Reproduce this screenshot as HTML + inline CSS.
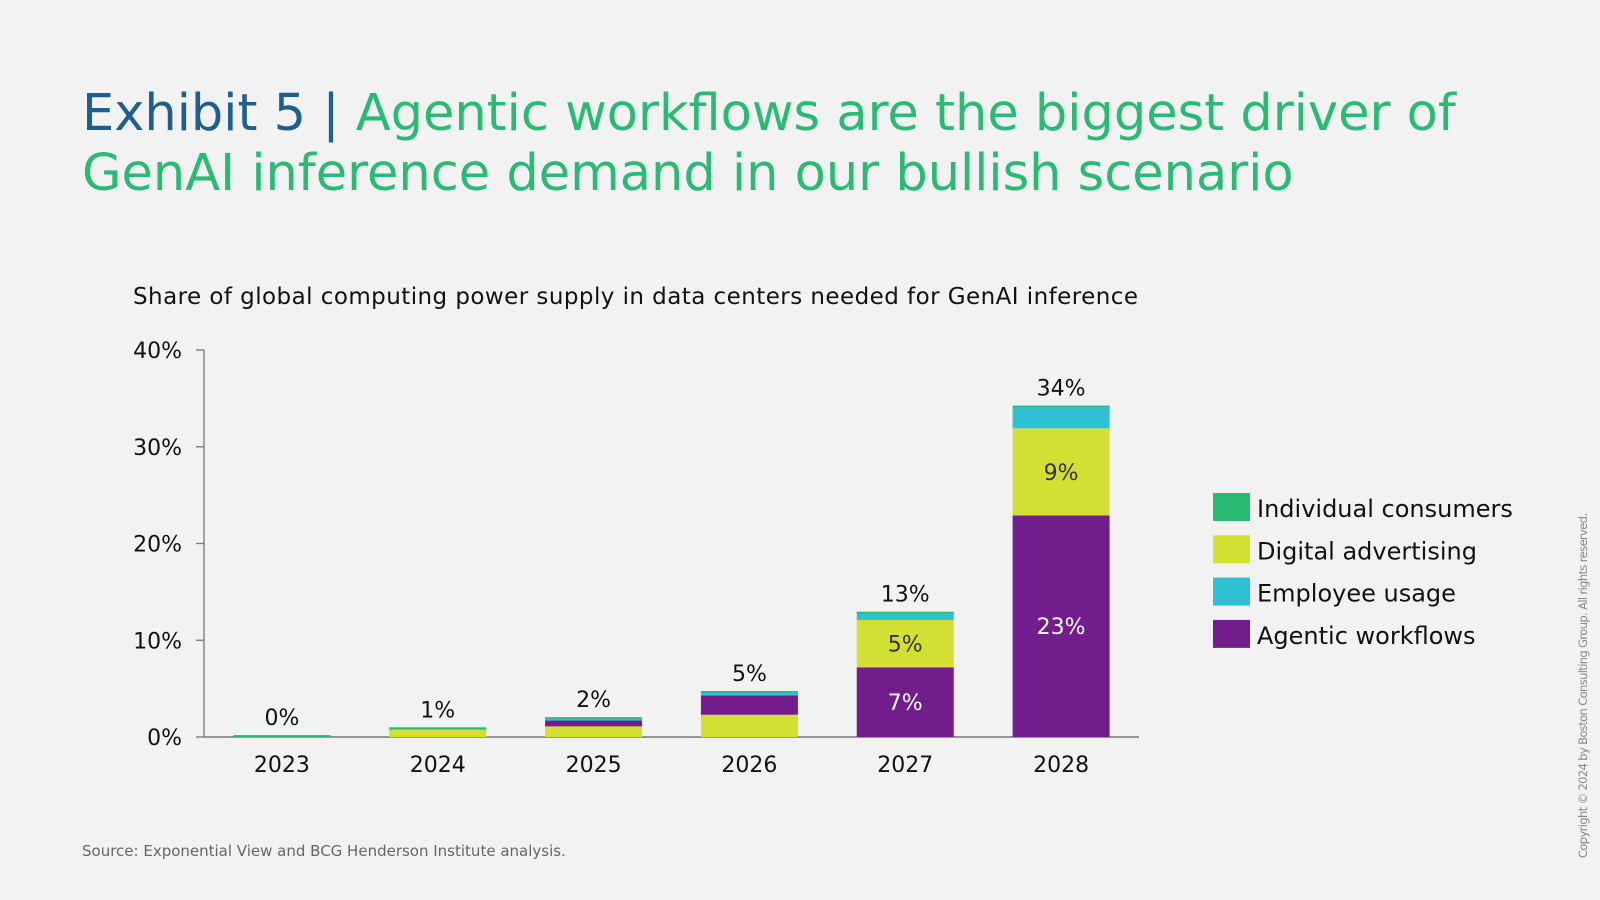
<!DOCTYPE html>
<html><head><meta charset="utf-8"><style>
body{margin:0;background:#f2f2f2;}
svg{display:block;font-family:"DejaVu Sans","Liberation Sans",sans-serif;}
</style></head><body>
<svg id="c" width="1600" height="900" viewBox="0 0 1600 900">
<rect width="1600" height="900" fill="#f2f2f2"/>
<text x="82" y="130" font-size="51"><tspan fill="#1f5f8b">Exhibit 5</tspan><tspan fill="#1f5f8b"> | </tspan><tspan fill="#29ba74">Agentic workflows are the biggest driver of</tspan></text>
<text x="82" y="190" font-size="51" fill="#29ba74">GenAI inference demand in our bullish scenario</text>
<text x="133" y="304" font-size="23" fill="#111" textLength="1005">Share of global computing power supply in data centers needed for GenAI inference</text>
<g id="axes"></g><g id="bars"></g><g id="legend"></g>
<text x="82" y="856" font-size="15" fill="#666">Source: Exponential View and BCG Henderson Institute analysis.</text>
<text transform="translate(1587,858) rotate(-90)" font-size="11.5" fill="#888" textLength="345">Copyright © 2024 by Boston Consulting Group. All rights reserved.</text>
</svg>
<script>
const categories=["2023","2024","2025","2026","2027","2028"];
const consumers=[0.2,0.1,0.05,0.05,0.05,0.05];
const digital=[0,0.8,1.1,2.3,4.9,9.0];
const agentic=[0,0,0.6,2.0,7.2,22.9];
const employee=[0,0.1,0.3,0.4,0.8,2.3];
const totals=["0%","1%","2%","5%","13%","34%"];
const digitalLabels=["","","","","5%","9%"];
const agenticLabels=["","","","","7%","23%"];
const yTicks=[0,10,20,30,40];
const seriesNames=["Individual consumers","Digital advertising","Employee usage","Agentic workflows"];
const colors=["#29ba74","#d4df33","#2fc1d3","#731d8d"];
const NS="http://www.w3.org/2000/svg";
const x0=204,x1=1139,y0=737,yTop=350,yMax=40;
const y=v=>y0-(v/yMax)*(y0-yTop);
const step=(x1-x0)/categories.length;
const xc=i=>x0+step*(i+0.5);
const bw=97;
function mk(t,a,p){const e=document.createElementNS(NS,t);for(const k in a)e.setAttribute(k,a[k]);p.appendChild(e);return e;}
const ax=document.getElementById('axes'),bg=document.getElementById('bars'),lg=document.getElementById('legend');
let l=mk('line',{x1:x0,y1:yTop,x2:x0,y2:y0,stroke:'#777','stroke-width':1.3},ax);


l=mk('line',{x1:x0,y1:y0,x2:x1,y2:y0,stroke:'#777','stroke-width':1.5},ax);


yTicks.forEach(v=>{
 const tk=mk('line',{x1:x0-8,y1:y(v),x2:x0,y2:y(v),stroke:'#777','stroke-width':1.3},ax);
 
 
 const t=mk('text',{x:x0-22,y:y(v)+8,'font-size':22,'text-anchor':'end',fill:'#111'},ax);t.textContent=v+'%';
 
 
});
categories.forEach((c,i)=>{
 const t=mk('text',{x:xc(i),y:y0+35,'font-size':22,'text-anchor':'middle',fill:'#111'},ax);t.textContent=c;
 
 
 let base=0;
 const mid={};
 const dSeg=[digital[i],1,'digital'],aSeg=[agentic[i],3,'agentic'];
 const lower=agentic[i]>digital[i]?[aSeg,dSeg]:[dSeg,aSeg];
 const segs=[...lower,[employee[i],2,'employee'],[consumers[i],0,'consumers']];
 segs.forEach(([v,ci,n])=>{
  if(v<=0)return;
  const r=mk('rect',{x:xc(i)-bw/2,y:y(base+v),width:bw,height:Math.max(y(base)-y(base+v),1.5),fill:colors[ci]},bg);
  
  
  mid[n]=base+v/2;
  base+=v;
 });
 const sum=consumers[i]+digital[i]+agentic[i]+employee[i];
 const tt=mk('text',{x:xc(i),y:y(sum)-10,'font-size':22,'text-anchor':'middle',fill:'#111'},bg);tt.textContent=totals[i];
 
 
 if(digitalLabels[i]){const d=mk('text',{x:xc(i),y:y(mid.digital)+8,'font-size':22,'text-anchor':'middle',fill:'#333'},bg);d.textContent=digitalLabels[i];
  
  }
 if(agenticLabels[i]){const a=mk('text',{x:xc(i),y:y(mid.agentic)+8,'font-size':22,'text-anchor':'middle',fill:'#fff'},bg);a.textContent=agenticLabels[i];
  
  }
});
seriesNames.forEach((n,k)=>{
 const yy=493+k*42.3;
 const r=mk('rect',{x:1213,y:yy,width:37,height:28,fill:colors[k]},lg);
 
 
 const t=mk('text',{x:1257,y:yy+24,'font-size':24,fill:'#111'},lg);t.textContent=n;
 
 
});
</script>
</body></html>
